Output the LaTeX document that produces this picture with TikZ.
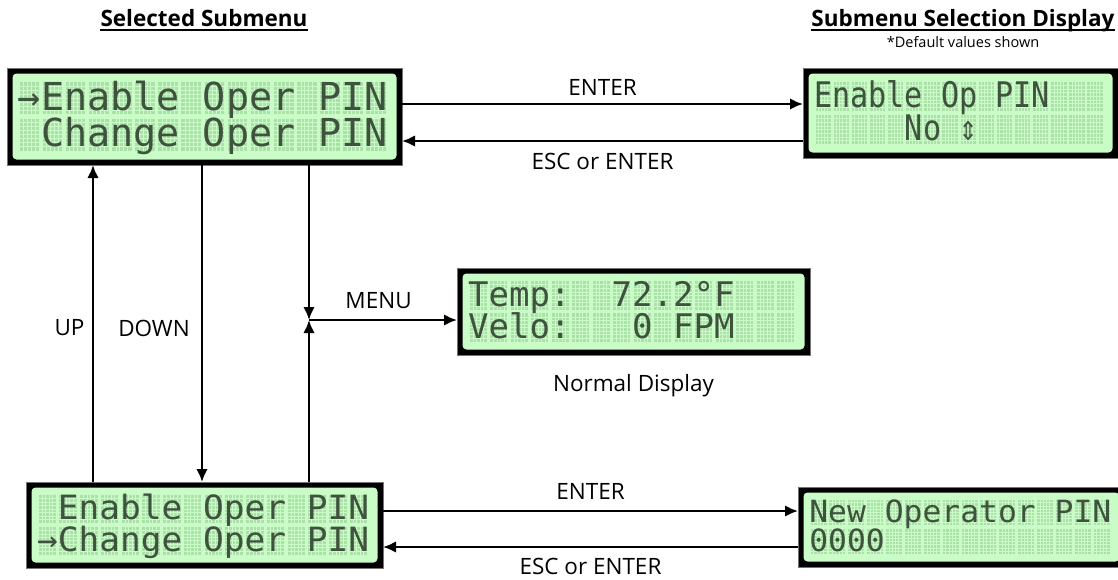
\documentclass[tikz,border=0pt]{standalone}
\usepackage{fontspec}
\usepackage{graphicx}
\setmainfont{Open Sans}
\newfontfamily\lcdfont{DejaVu Sans Mono}
\usetikzlibrary{arrows.meta}

\definecolor{lcdbg}{RGB}{201,252,198}
\definecolor{lcddot}{RGB}{172,224,169}
\definecolor{lcdink}{RGB}{62,82,62}

\tikzset{
  conn/.style={line width=2.3pt, -{Latex[length=13pt,width=11.5pt]}},
  lbl/.style={font=\fontsize{22.5}{27}\selectfont, inner sep=0pt},
  heading/.style={font=\fontsize{22.5}{27}\selectfont\bfseries, inner sep=0pt},
  note/.style={font=\fontsize{14.5}{17}\selectfont, inner sep=0pt},
  lcdframe/.style={fill=black, draw=black!55, line width=0.6pt, inner sep=0pt,
    outer sep=0pt, anchor=north west},
  lcdtext/.style={anchor=base west, inner sep=0pt, text=lcdink},
}

% A 16x2 character LCD: name, left, top, right, bottom, first line, second line
\newcommand\lcdpanel[7]{%
  \pgfmathsetmacro\LW{#4-(#2)}%
  \pgfmathsetmacro\LH{#5-(#3)}%
  \node[lcdframe, minimum width=\LW pt, minimum height=\LH pt] (#1) at (#2,#3) {};
  \fill[lcdbg, rounded corners=4pt] (#2+5.5,#3+5.5) rectangle (#4-5.5,#5-5.5);
  \pgfmathsetmacro\LX{#2+12.5}%
  \pgfmathsetmacro\LP{(\LW-25)/16}%
  \pgfmathsetmacro\LCW{0.85*\LP}%
  \pgfmathsetmacro\LMV{0.09*\LH}%
  \pgfmathsetmacro\LG{0.045*\LH}%
  \pgfmathsetmacro\LRH{(\LH-11-2*\LMV-\LG)/2}%
  \pgfmathsetmacro\LYa{#3+5.5+\LMV}%
  \pgfmathsetmacro\LYb{\LYa+\LRH+\LG}%
  \foreach \ry in {\LYa,\LYb}{%
    \foreach \c in {0,...,15}{%
      \fill[lcddot] (\LX+\c*\LP,\ry) rectangle ++(\LCW,\LRH);
      \foreach \k in {1,...,4}
        \draw[lcdbg, line width=0.8pt] (\LX+\c*\LP+\k*\LCW/5,\ry) -- ++(0,\LRH);
    }
    \foreach \k in {1,...,7}
      \draw[lcdbg, line width=0.8pt] (\LX,\ry+\k*\LRH/8) -- ++(16*\LP,0);
  }
  \pgfmathsetmacro\LFS{\LP/0.602}%
  \pgfmathsetmacro\LYS{0.875*\LRH/(0.729*\LFS)}%
  \node[lcdtext] (#1-r1) at (\LX+\LCW/2-\LP/2,\LYa+0.875*\LRH)
    {\scalebox{1}[\LYS]{\lcdfont\fontsize{\LFS}{\LFS}\selectfont #6}};
  \node[lcdtext] (#1-r2) at (\LX+\LCW/2-\LP/2,\LYb+0.875*\LRH)
    {\scalebox{1}[\LYS]{\lcdfont\fontsize{\LFS}{\LFS}\selectfont #7}};
}

\begin{document}
\begin{tikzpicture}[x=1pt,y=-1pt]
  \fill[white] (0,0) rectangle (1118,579);
  \useasboundingbox (0,0) rectangle (1118,579);

  % column headings
  \node[heading, anchor=base] (hsel) at (204,26.7) {Selected Submenu};
  \draw[line width=1.8pt] ([yshift=-3pt]hsel.base west) -- ([yshift=-3pt]hsel.base east);
  \node[heading, anchor=base] (hdisp) at (963,26.7) {Submenu Selection Display};
  \draw[line width=1.8pt] ([yshift=-3pt]hdisp.base west) -- ([yshift=-3pt]hdisp.base east);
  \node[note, anchor=base] (hnote) at (963,47) {*Default values shown};

  % displays
  \lcdpanel{sel1}{7}{68}{402}{165}{→Enable~Oper~PIN}{~Change~Oper~PIN}
  \lcdpanel{enop}{803}{68}{1118}{158}{Enable~Op~PIN}{~~~~~No~⇕}
  \lcdpanel{normal}{457}{268}{810}{355}{Temp:~~72.2°F}{Velo:~~~0~FPM}
  \lcdpanel{sel2}{26}{482}{383}{568}{~Enable~Oper~PIN}{→Change~Oper~PIN}
  \lcdpanel{newpin}{798}{487}{1125}{567}{New~Operator~PIN}{0000}

  \node[lbl, anchor=base] (ndlbl) at ([yshift=-36.5pt]normal.south) {Normal Display};

  % helper positions for the connectors
  \coordinate (upx) at (93,0);
  \coordinate (downx) at (202,0);
  \coordinate (menu) at (309,320);
  \coordinate (topgo) at (0,104);
  \coordinate (topback) at (0,141);
  \coordinate (botgo) at (0,511);
  \coordinate (botback) at (0,547);

  % enter / escape between submenu and its setting
  \draw[conn] (sel1.east |- topgo) -- node[lbl, above=7pt] (lenter1) {ENTER} (enop.west |- topgo);
  \draw[conn] (enop.west |- topback) -- node[lbl, below=11pt] (lesc1) {ESC or ENTER} (sel1.east |- topback);
  \draw[conn] (sel2.east |- botgo) -- node[lbl, above=10.5pt] (lenter2) {ENTER} (newpin.west |- botgo);
  \draw[conn] (newpin.west |- botback) -- node[lbl, below=10.5pt] (lesc2) {ESC or ENTER} (sel2.east |- botback);

  % up / down between submenu entries
  \draw[conn] (sel2.north -| upx) -- (sel1.south -| upx);
  \draw[conn] (sel1.south -| downx) -- (sel2.north -| downx);
  \node[lbl] (lup) at (69.5,328) {UP};
  \node[lbl] (ldown) at (154,328) {DOWN};

  % menu key returns to the normal display
  \draw[conn] (sel1.south -| menu) -- (menu);
  \draw[conn] (sel2.north -| menu) -- (menu);
  \draw[conn] (menu) -- node[lbl, above=10pt, pos=0.47] (lmenu) {MENU} (normal.west |- menu);
\end{tikzpicture}
\end{document}
